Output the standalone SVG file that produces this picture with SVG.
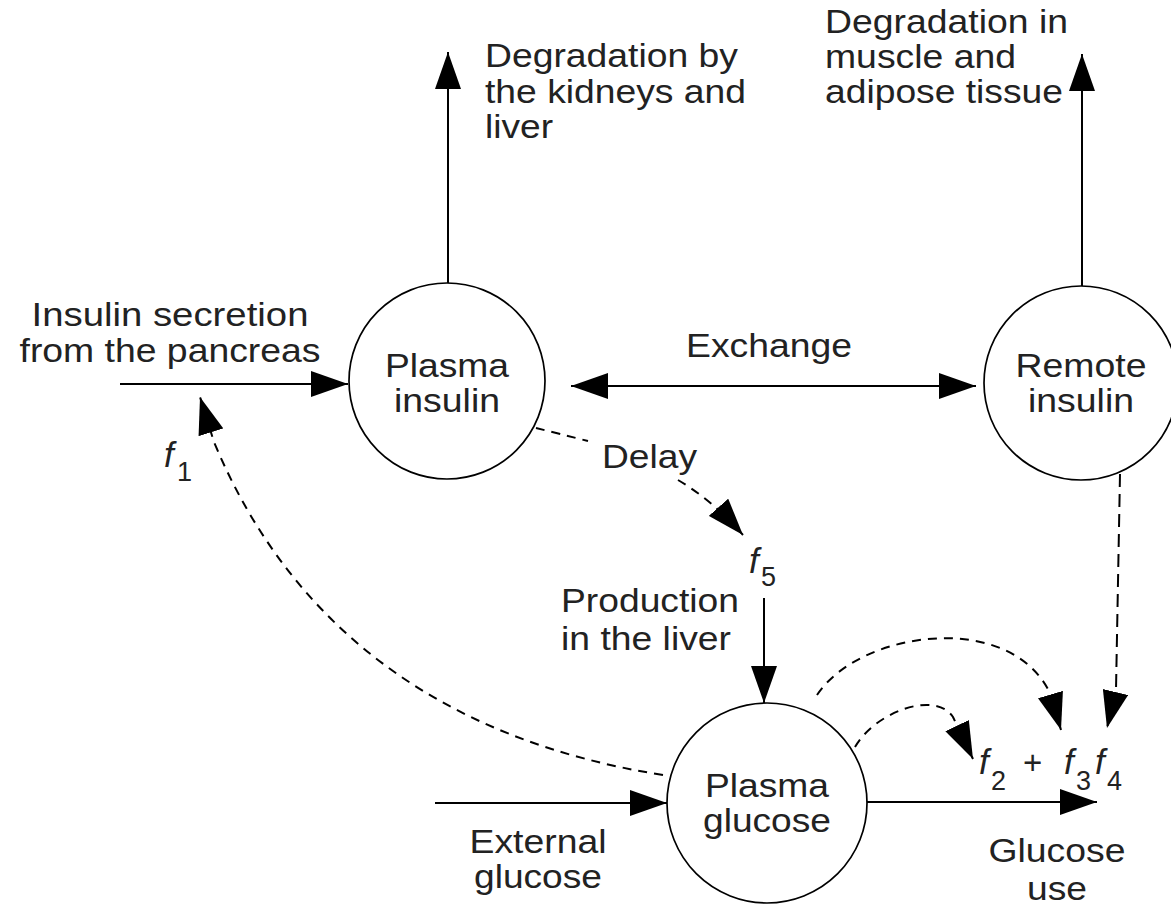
<svg xmlns="http://www.w3.org/2000/svg" width="1171" height="906" viewBox="0 0 1171 906">
<style>
.bg{fill:#fff}
.node{fill:#fff;stroke:#000;stroke-width:1.7}
.ln{fill:none;stroke:#000;stroke-width:2}
.dash{fill:none;stroke:#000;stroke-width:2;stroke-dasharray:9 7}
.t{font-family:"Liberation Sans",Arial,Helvetica,sans-serif;font-size:33px;fill:#222}
.m{text-anchor:middle}
.f{font-style:italic;font-size:35px}
.s{font-size:27px}
</style>
<defs>
<marker id="ah" viewBox="0 0 37 26" refX="37" refY="13" markerWidth="37" markerHeight="26" markerUnits="userSpaceOnUse" orient="auto-start-reverse">
<path d="M0,0 L37,13 L0,26 Z" fill="#000"/>
</marker>
</defs>
<rect class="bg" x="0" y="0" width="1171" height="906"/>

<g id="connectors">
<path class="ln" d="M120,384 L348,384" marker-end="url(#ah)"/>
<path class="ln" d="M448,283 L448,52" marker-end="url(#ah)"/>
<path class="ln" d="M1082,286 L1082,54" marker-end="url(#ah)"/>
<path class="ln" d="M571,386 L976,386" marker-start="url(#ah)" marker-end="url(#ah)"/>
<path class="dash" d="M536,428 Q560,434 588,441"/>
<path class="dash" d="M678,480 Q712,500 743,535" marker-end="url(#ah)"/>
<path class="ln" d="M764,598 L764,703" marker-end="url(#ah)"/>
<path class="ln" d="M435,803 L667,803" marker-end="url(#ah)"/>
<path class="ln" d="M867,802 L1097,802" marker-end="url(#ah)"/>
<path class="dash" d="M663,775 C440,740 290,625 214,442 L200,397" marker-end="url(#ah)"/>
<path class="dash" d="M817,695 C860,630 1010,610 1050,693 L1061,730" marker-end="url(#ah)"/>
<path class="dash" d="M855,747 C875,712 935,690 953,717 L973,759" marker-end="url(#ah)"/>
<path class="dash" d="M1120,474 L1116,690 L1107,728" style="stroke-dasharray:13 7" marker-end="url(#ah)"/>
</g>

<g id="node-plasma-insulin">
<circle class="node" cx="447" cy="381" r="98"/>
<text class="t m" x="447" y="377" textLength="124" lengthAdjust="spacingAndGlyphs">Plasma</text>
<text class="t m" x="447" y="412" textLength="106" lengthAdjust="spacingAndGlyphs">insulin</text>
</g>

<g id="node-remote-insulin">
<circle class="node" cx="1081" cy="383" r="97"/>
<text class="t m" x="1081" y="377" textLength="131" lengthAdjust="spacingAndGlyphs">Remote</text>
<text class="t m" x="1081" y="412" textLength="106" lengthAdjust="spacingAndGlyphs">insulin</text>
</g>

<g id="node-plasma-glucose">
<circle class="node" cx="767" cy="803" r="100"/>
<text class="t m" x="767" y="797" textLength="124" lengthAdjust="spacingAndGlyphs">Plasma</text>
<text class="t m" x="767" y="832" textLength="128" lengthAdjust="spacingAndGlyphs">glucose</text>
</g>

<g id="labels">
<text class="t m" x="170" y="326" textLength="277" lengthAdjust="spacingAndGlyphs">Insulin secretion</text>
<text class="t m" x="170" y="362" textLength="301" lengthAdjust="spacingAndGlyphs">from the pancreas</text>

<text class="t" x="485" y="67" textLength="253" lengthAdjust="spacingAndGlyphs">Degradation by</text>
<text class="t" x="485" y="103" textLength="261" lengthAdjust="spacingAndGlyphs">the kidneys and</text>
<text class="t" x="485" y="138" textLength="68" lengthAdjust="spacingAndGlyphs">liver</text>

<text class="t" x="825" y="33" textLength="243" lengthAdjust="spacingAndGlyphs">Degradation in</text>
<text class="t" x="825" y="68" textLength="191" lengthAdjust="spacingAndGlyphs">muscle and</text>
<text class="t" x="825" y="103" textLength="238" lengthAdjust="spacingAndGlyphs">adipose tissue</text>

<text class="t m" x="769" y="357" textLength="166" lengthAdjust="spacingAndGlyphs">Exchange</text>
<text class="t" x="602" y="468" textLength="95" lengthAdjust="spacingAndGlyphs">Delay</text>

<text class="t" x="561" y="612" textLength="178" lengthAdjust="spacingAndGlyphs">Production</text>
<text class="t" x="561" y="650" textLength="170" lengthAdjust="spacingAndGlyphs">in the liver</text>

<text class="t m" x="538" y="853" textLength="137" lengthAdjust="spacingAndGlyphs">External</text>
<text class="t m" x="538" y="888" textLength="128" lengthAdjust="spacingAndGlyphs">glucose</text>

<text class="t m" x="1057" y="862" textLength="137" lengthAdjust="spacingAndGlyphs">Glucose</text>
<text class="t m" x="1057" y="900" textLength="60" lengthAdjust="spacingAndGlyphs">use</text>

<text class="t f" x="164" y="467">f</text>
<text class="t s" x="177" y="481">1</text>

<text class="t f" x="749" y="573">f</text>
<text class="t s" x="761" y="586">5</text>

<text class="t f" x="979" y="774">f</text>
<text class="t s" x="991" y="790">2</text>
<text class="t" x="1023" y="774">+</text>
<text class="t f" x="1064" y="774">f</text>
<text class="t s" x="1076" y="790">3</text>
<text class="t f" x="1095" y="774">f</text>
<text class="t s" x="1107" y="790">4</text>
</g>
</svg>
